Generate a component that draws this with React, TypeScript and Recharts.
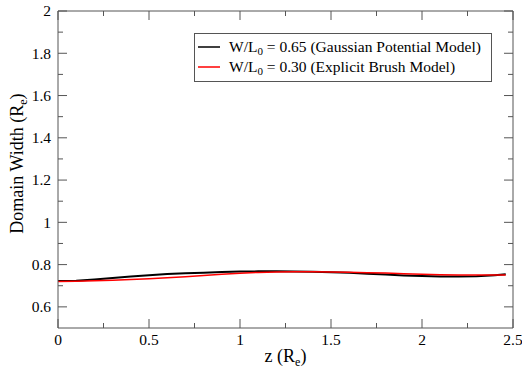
import React from 'react';
import { LineChart, Line, XAxis, YAxis } from 'recharts';

const zValues = [0, 0.1, 0.2, 0.3, 0.4, 0.5, 0.6, 0.7, 0.8, 0.9, 1.0, 1.1, 1.2, 1.3, 1.4, 1.5, 1.6, 1.7, 1.8, 1.9, 2.0, 2.1, 2.2, 2.3, 2.4, 2.46];
const gaussianWidth = [0.722, 0.724, 0.730, 0.737, 0.744, 0.750, 0.755, 0.759, 0.762, 0.765, 0.767, 0.768, 0.768, 0.767, 0.766, 0.764, 0.761, 0.757, 0.753, 0.749, 0.746, 0.744, 0.744, 0.745, 0.750, 0.754];
const brushWidth = [0.720, 0.721, 0.723, 0.726, 0.729, 0.733, 0.738, 0.743, 0.748, 0.754, 0.759, 0.763, 0.765, 0.766, 0.766, 0.765, 0.764, 0.762, 0.760, 0.757, 0.754, 0.752, 0.751, 0.751, 0.751, 0.751];

const xTicks = [0, 0.25, 0.5, 0.75, 1, 1.25, 1.5, 1.75, 2, 2.25, 2.5];
const yTicks = [0.6, 0.7, 0.8, 0.9, 1, 1.1, 1.2, 1.3, 1.4, 1.5, 1.6, 1.7, 1.8, 1.9, 2];

const data = zValues.map((z, i) => ({ z, gauss: gaussianWidth[i], brush: brushWidth[i] }));

const FONT = '"Liberation Serif", "Times New Roman", serif';
const AXIS = '#555';

const isMajorX = (v: number) => Math.abs(v * 2 - Math.round(v * 2)) < 1e-6;
const isMajorY = (v: number) => Math.round(v * 10) % 2 === 0;

const BottomTick = (props: any) => {
  const { x, y, payload } = props;
  const v = payload.value;
  const major = isMajorX(v);
  return (
    <g>
      <line x1={x} x2={x} y1={y} y2={y - (major ? 9 : 5)} stroke={AXIS} strokeWidth={1} />
      {major && (
        <text x={x} y={y + 17} textAnchor="middle" style={{ fontFamily: FONT }} fontSize={15.5} fill="#000">
          {String(v)}
        </text>
      )}
    </g>
  );
};

const TopTick = (props: any) => {
  const { x, payload, viewBox } = props;
  const y0 = viewBox ? viewBox.y + viewBox.height : props.y;
  const major = isMajorX(payload.value);
  return <line x1={x} x2={x} y1={y0} y2={y0 + (major ? 9 : 5)} stroke={AXIS} strokeWidth={1} />;
};

const LeftTick = (props: any) => {
  const { x, y, payload } = props;
  const v = payload.value;
  const major = isMajorY(v);
  return (
    <g>
      <line x1={x} x2={x + (major ? 9 : 5)} y1={y} y2={y} stroke={AXIS} strokeWidth={1} />
      {major && (
        <text x={x - 7} y={y} dy="0.35em" textAnchor="end" style={{ fontFamily: FONT }} fontSize={15.5} fill="#000">
          {String(v)}
        </text>
      )}
    </g>
  );
};

const RightTick = (props: any) => {
  const { y, payload, viewBox } = props;
  const x0 = viewBox ? viewBox.x : props.x;
  const major = isMajorY(payload.value);
  return <line x1={x0} x2={x0 - (major ? 9 : 5)} y1={y} y2={y} stroke={AXIS} strokeWidth={1} />;
};

const XTitle = (props: any) => {
  const vb = props.viewBox || { x: 58, y: 328, width: 455, height: 47 };
  const cx = vb.x + vb.width / 2;
  return (
    <text x={cx} y={vb.y + 34} textAnchor="middle" style={{ fontFamily: FONT }} fontSize={18} fill="#000">
      z (R<tspan dy={4} fontSize={12}>e</tspan><tspan dy={-4}>)</tspan>
    </text>
  );
};

const YTitle = (props: any) => {
  const vb = props.viewBox || { x: 0, y: 11, width: 58, height: 317 };
  const cy = vb.y + vb.height / 2 - 6;
  const cx = 23;
  return (
    <text x={cx} y={cy} transform={`rotate(-90, ${cx}, ${cy})`} textAnchor="middle" style={{ fontFamily: FONT }} fontSize={18} fill="#000">
      Domain Width (R<tspan dy={4} fontSize={12}>e</tspan><tspan dy={-4}>)</tspan>
    </text>
  );
};

const legendItems = [
  { color: '#000', value: '0.65', model: 'Gaussian Potential Model' },
  { color: '#ff0000', value: '0.30', model: 'Explicit Brush Model' },
];

const LegendBox = () => (
  <div
    style={{
      position: 'absolute',
      left: 194,
      top: 33,
      border: `1px solid ${AXIS}`,
      background: '#fff',
      width: 298,
      height: 49,
      boxSizing: 'border-box',
      fontFamily: FONT,
      fontSize: 15.5,
      color: '#000',
      padding: '3px 0 0 0',
    }}
  >
    {legendItems.map((it) => (
      <div key={it.model} style={{ display: 'flex', alignItems: 'center', height: 20, lineHeight: '20px', whiteSpace: 'nowrap' }}>
        <svg width={34} height={20} style={{ flex: 'none' }}>
          <line x1={3} x2={25} y1={10} y2={10} stroke={it.color} strokeWidth={1.5} />
        </svg>
        <span>
          W/L<sub style={{ fontSize: 11, verticalAlign: -3, lineHeight: 0 }}>0</sub> = {it.value} ({it.model})
        </span>
      </div>
    ))}
  </div>
);

export default function App() {
  return (
    <div style={{ position: 'absolute', left: 0, top: 0, width: 522, height: 375, background: '#fff' }}>
      <LineChart width={522} height={375} data={data} margin={{ top: 10, right: 8, left: 0, bottom: 0 }}>
        <XAxis
          dataKey="z"
          type="number"
          domain={[0, 2.5]}
          ticks={xTicks}
          interval={0}
          allowDataOverflow
          height={47}
          tickSize={0}
          tickMargin={0}
          tickLine={false}
          axisLine={{ stroke: AXIS, strokeWidth: 1 }}
          tick={<BottomTick />}
          label={<XTitle />}
        />
        <XAxis
          xAxisId="top"
          orientation="top"
          dataKey="z"
          type="number"
          domain={[0, 2.5]}
          ticks={xTicks}
          interval={0}
          allowDataOverflow
          height={1}
          tickSize={0}
          tickMargin={0}
          tickLine={false}
          axisLine={{ stroke: AXIS, strokeWidth: 1 }}
          tick={<TopTick />}
        />
        <YAxis
          type="number"
          domain={[0.5, 2]}
          ticks={yTicks}
          interval={0}
          allowDataOverflow
          width={58}
          tickSize={0}
          tickMargin={0}
          tickLine={false}
          axisLine={{ stroke: AXIS, strokeWidth: 1 }}
          tick={<LeftTick />}
          label={<YTitle />}
        />
        <YAxis
          yAxisId="right"
          orientation="right"
          type="number"
          domain={[0.5, 2]}
          ticks={yTicks}
          interval={0}
          allowDataOverflow
          width={1}
          tickSize={0}
          tickMargin={0}
          tickLine={false}
          axisLine={{ stroke: AXIS, strokeWidth: 1 }}
          tick={<RightTick />}
        />
        <Line xAxisId="top" yAxisId="right" type="linear" dataKey="gauss" stroke="none" strokeOpacity={0} dot={false} activeDot={false} legendType="none" isAnimationActive={false} />
        <Line type="linear" dataKey="gauss" stroke="#000" strokeWidth={2} dot={false} isAnimationActive={false} />
        <Line type="linear" dataKey="brush" stroke="#ff0000" strokeWidth={1.5} dot={false} isAnimationActive={false} />
      </LineChart>
      <LegendBox />
    </div>
  );
}
